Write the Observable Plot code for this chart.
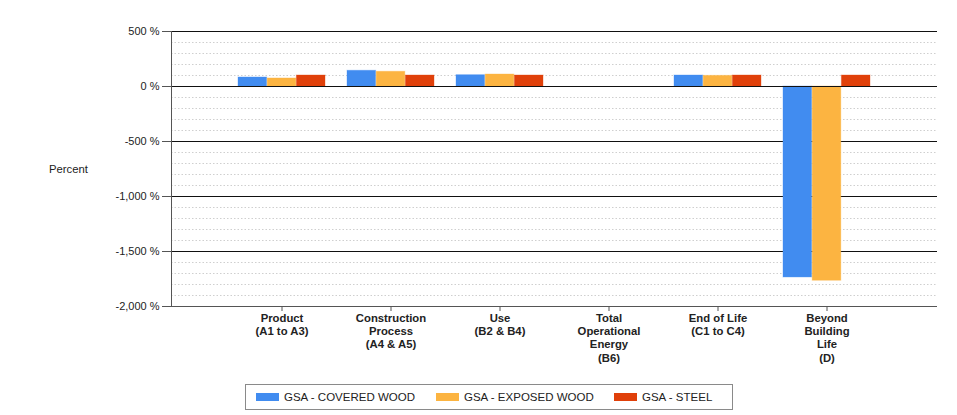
<!DOCTYPE html>
<html>
<head>
<meta charset="utf-8">
<script src="https://cdn.jsdelivr.net/npm/d3@7"></script>
<script src="https://cdn.jsdelivr.net/npm/@observablehq/plot@0.6"></script>
<style>
  html, body { margin: 0; padding: 0; background: #fff; }
  body { width: 957px; height: 415px; position: relative; overflow: hidden; font-family: "Liberation Sans", Arial, sans-serif; color: #222; }
  #topline { position: absolute; left: 7px; top: 9px; width: 950px; height: 1px; background: #d0d0d0; }
  #chart { position: absolute; left: 0; top: 0; }
  #ylabel { position: absolute; left: 49px; top: 163px; font-size: 11.3px; color: #222; }
  #legend { position: absolute; left: 245px; top: 384px; width: 486px; height: 24px; border: 1px solid #8a8a8a; box-sizing: content-box; font-size: 11.5px; }
  .item { position: absolute; top: 0; height: 24px; line-height: 24px; white-space: nowrap; color: #222; }
  .sw { display: inline-block; width: 23px; height: 8px; vertical-align: middle; margin-right: 5px; position: relative; top: -1px; }
</style>
</head>
<body>
<div id="topline"></div>
<div id="chart"></div>
<div id="ylabel">Percent</div>
<div id="legend"></div>
<script>
// ---- data ----
const categories = [
  "Product\n(A1 to A3)",
  "Construction\nProcess\n(A4 & A5)",
  "Use\n(B2 & B4)",
  "Total\nOperational\nEnergy\n(B6)",
  "End of Life\n(C1 to C4)",
  "Beyond\nBuilding\nLife\n(D)"
];
const seriesNames = ["GSA - COVERED WOOD", "GSA - EXPOSED WOOD", "GSA - STEEL"];
const coveredWood = [82, 143, 103, null, 100, -1736];
const exposedWood = [73, 134, 109, null, 97, -1766];
const steel = [100, 100, 100, null, 100, 100];
const seriesColors = ["#418CF0", "#FCB441", "#E0400A"];
const yTicks = [500, 0, -500, -1000, -1500, -2000];

// ---- layout ----
const W = 957, H = 375;
const mL = 171, mR = 20, mT = 31, mB = 69;
const padInner = 0.2, padOuter = 0.6;
const step = (W - mL - mR) / (categories.length - padInner + 2 * padOuter);
const bw = step * (1 - padInner);
const part = bw / 3;

const allSeries = [coveredWood, exposedWood, steel];
const rows = allSeries.map((vals, s) =>
  categories.map((c, i) => ({category: c, series: seriesNames[s], value: vals[i]}))
    .filter(d => d.value != null)
);

const minor = d3.range(-2000, 501, 100).filter(v => v % 500 !== 0);
const major = [500, -500, -1000, -1500];

const barMark = (s) => Plot.barY(rows[s], {
  x: "category", y1: 0, y2: "value",
  fill: seriesColors[s], stroke: seriesColors[s], strokeOpacity: 0.35, strokeWidth: 1,
  insetLeft: part * s, insetRight: part * (2 - s)
});

const fmt = d => d3.format(",")(d).replace("\u2212", "-") + " %";

const chart = Plot.plot({
  width: W, height: H,
  marginLeft: mL, marginRight: mR, marginTop: mT, marginBottom: mB,
  style: {fontFamily: "'Liberation Sans', Arial, sans-serif", fontSize: "11px", color: "#222", background: "white", overflow: "visible"},
  x: {domain: categories, paddingInner: padInner, paddingOuter: padOuter, axis: null},
  y: {domain: [-2000, 500], axis: null},
  marks: [
    Plot.ruleY(minor, {stroke: "#cfcfcf", strokeDasharray: "1.5,2"}),
    Plot.ruleY(major, {stroke: "#111"}),
    barMark(0), barMark(1), barMark(2),
    Plot.ruleY([0], {stroke: "#111"}),
    Plot.ruleY([-2000], {stroke: "#555"}),
    Plot.frame({anchor: "left", stroke: "#555"}),
    Plot.axisY({ticks: yTicks, tickFormat: fmt, tickSize: 9, tickPadding: 3, fontSize: 11, label: null, stroke: "#555"}),
    Plot.axisX({tickSize: 5, tickPadding: 1, fontSize: 11.3, fontWeight: "bold", lineHeight: 1.17, label: null, stroke: "#555"})
  ]
});
document.getElementById("chart").appendChild(chart);

// legend
const legend = document.getElementById("legend");
const lefts = [10, 190, 368];
seriesNames.forEach((n, i) => {
  const it = document.createElement("div");
  it.className = "item";
  it.style.left = lefts[i] + "px";
  it.innerHTML = `<span class="sw" style="background:${seriesColors[i]}"></span>${n}`;
  legend.appendChild(it);
});
</script>
</body>
</html>
